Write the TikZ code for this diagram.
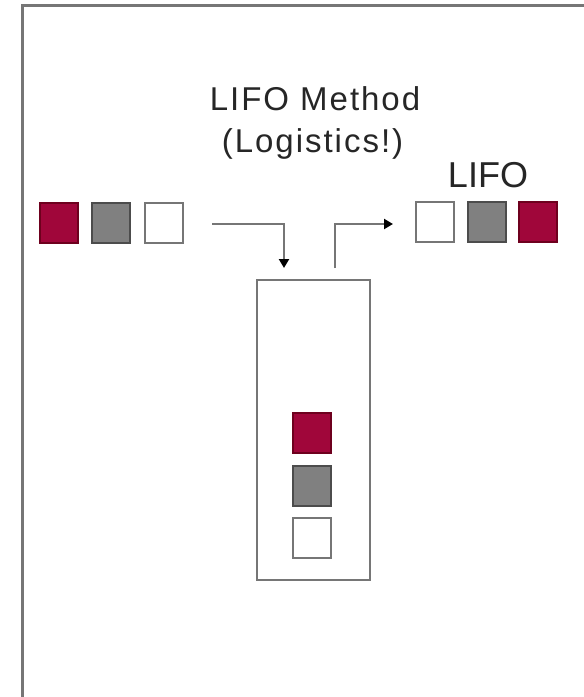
\documentclass[tikz,border=0pt]{standalone}
\usepackage{fontspec}
\setmainfont{Liberation Sans}
\usetikzlibrary{arrows.meta}
\definecolor{crim}{RGB}{160,6,58}
\definecolor{crimdk}{RGB}{110,0,30}
\definecolor{mgray}{RGB}{128,128,128}
\definecolor{lgray}{RGB}{118,118,118}
\begin{document}
\begin{tikzpicture}[x=1pt,y=-1pt,
  sq/.style={minimum width=38pt,minimum height=40pt,inner sep=0pt,line width=2.5pt},
  redsq/.style={sq,fill=crim,draw=crimdk},
  graysq/.style={sq,fill=mgray,draw=black!70},
  whitesq/.style={sq,fill=white,draw=lgray},
  conn/.style={draw=lgray,line width=2.5pt,-{Triangle[length=9pt,width=10pt,fill=black,color=black]}},
  lbl/.style={font=\fontsize{33}{38}\selectfont\addfontfeature{LetterSpace=6},text=black!85,inner sep=0pt,anchor=base},
  lbltwo/.style={font=\fontsize{36}{40}\selectfont,text=black!85,inner sep=0pt,anchor=base}]
\useasboundingbox (0,0) rectangle (584,697);
\fill[white] (0,0) rectangle (584,697);
\draw[lgray,line width=3pt] (22,697) -- (22,5) -- (584,5);
% labels
\node[lbl] (t1) at (315,110) {LIFO Method};
\node[lbl] (t2) at (312.5,152) {(Logistics!)};
\node[lbltwo] (t3) at (488,187) {LIFO};
% input squares
\node[redsq] (a1) at (59,223) {};
\node[graysq] (a2) at (111,223) {};
\node[whitesq] (a3) at (164,223) {};
% output squares
\node[whitesq] (b1) at (435,222) {};
\node[graysq] (b2) at (487,222) {};
\node[redsq] (b3) at (538,222) {};
% box
\node[draw=lgray,line width=2.5pt,minimum width=113pt,minimum height=300pt,inner sep=0pt] (box) at (313.5,430) {};
\node[redsq] (s1) at (312,433) {};
\node[graysq] (s2) at (312,486) {};
\node[whitesq] (s3) at (312,538) {};
% connectors
\coordinate (in0) at (212,224);
\coordinate (in1) at (284,268);
\coordinate (out0) at (335,268);
\coordinate (out1) at (393,224);
\draw[conn] (in0) -| (in1);
\draw[conn] (out0) |- (out1);
\end{tikzpicture}
\end{document}
